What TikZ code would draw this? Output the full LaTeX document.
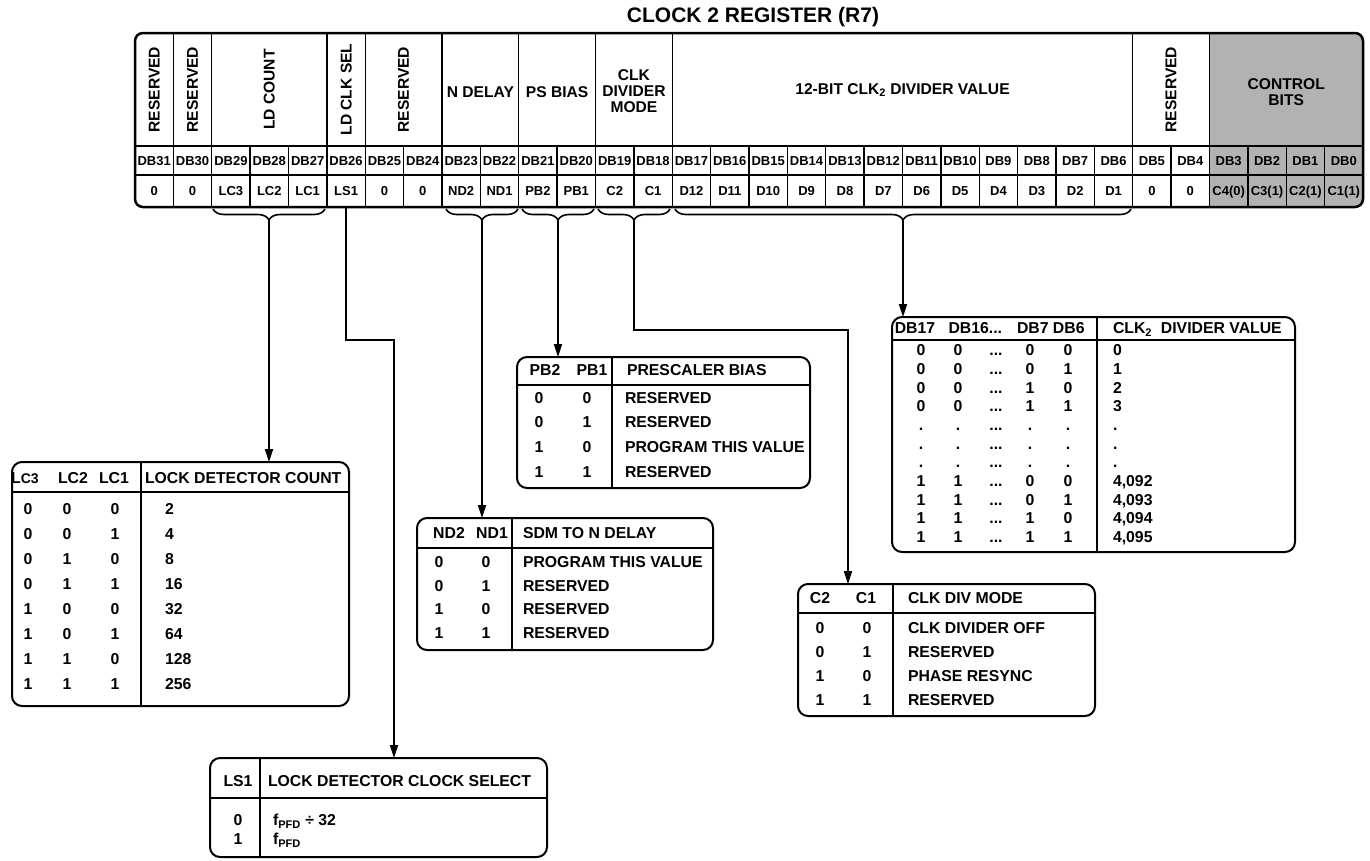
\documentclass[tikz,border=0pt]{standalone}
\usepackage{fontspec}
\setmainfont{Liberation Sans}
\usetikzlibrary{arrows.meta,decorations.pathreplacing}

\begin{document}
\begin{tikzpicture}[
  x=1pt, y=-1pt,
  every node/.style={inner sep=0pt, outer sep=0pt},
  title/.style={font=\fontsize{21}{21}\selectfont\bfseries},
  hdr/.style={font=\fontsize{15.6}{16}\selectfont\bfseries, align=center},
  bit/.style={font=\fontsize{13}{13}\selectfont\bfseries, text height=9.3pt, text depth=0pt},
  txt/.style={font=\fontsize{15.8}{15.8}\selectfont\bfseries, text height=11.3pt, text depth=0pt},
  lft/.style={txt, anchor=west},
  tbox/.style={draw, line width=2pt, rounded corners=10pt},
  rule/.style={line width=1.4pt},
  grid/.style={line width=1.3pt},
  brc/.style={decorate, decoration={brace, mirror, amplitude=11pt}, line width=1.6pt},
  arrow/.style={-{Triangle[length=13pt,width=8pt]}, line width=1.8pt}
]
  \useasboundingbox (0,0) rectangle (1370,860);

  % Register
  \node[title] (ttl) at (753,17) {CLOCK 2 REGISTER (R7)};
  \begin{scope}
    \clip[rounded corners=8pt] (135,33) rectangle (1363,207);
    \fill[black!30] (1209.5,33) rectangle (1363,207);
  \end{scope}
  \draw[grid] (135,146) -- (1363,146) (135,175) -- (1363,175);
  \foreach \i in {1,2,5,6,8,10,12,14,26,28}
    \draw[grid] ({135+38.375*\i},33) -- ({135+38.375*\i},146);
  \foreach \i in {1,...,31}
    \draw[grid] ({135+38.375*\i},146) -- ({135+38.375*\i},207);
  \draw[line width=2.5pt, rounded corners=8pt] (135,33) rectangle (1363,207);

  \node[hdr, rotate=90] (hres31) at (154.2,89.5) {RESERVED};
  \node[hdr, rotate=90] (hres30) at (192.6,89.5) {RESERVED};
  \node[hdr, rotate=90] (hldc) at (269.3,89.5) {LD COUNT};
  \node[hdr, rotate=90] (hlds) at (346.2,89.5) {LD CLK SEL};
  \node[hdr, rotate=90] (hres25) at (403.6,89.5) {RESERVED};
  \node[hdr] (hnd) at (480.4,92) {N DELAY};
  \node[hdr] (hpb) at (557.1,92) {PS BIAS};
  \node[hdr] (hcdm) at (633.9,91) {CLK\\DIVIDER\\MODE};
  \node[hdr] (hdiv) at (902.5,90) {12-BIT CLK\textsubscript{2} DIVIDER VALUE};
  \node[hdr, rotate=90] (hres5) at (1171.1,89.5) {RESERVED};
  \node[hdr] (hctl) at (1286.2,92) {CONTROL\\BITS};

  \foreach \n [count=\i from 0] in {31,...,0}
    \node[bit] (db\n) at ({135+38.375*(\i+0.5)},160.5) {DB\n};
  \foreach \v [count=\i from 0] in {0,0,LC3,LC2,LC1,LS1,0,0,ND2,ND1,PB2,PB1,C2,C1,D12,D11,D10,D9,D8,D7,D6,D5,D4,D3,D2,D1,0,0,C4(0),C3(1),C2(1),C1(1)}
    \node[bit] (val\i) at ({135+38.375*(\i+0.5)},191) {\v};

  % Braces
  \draw[brc] (213,209) -- (325,209);
  \draw[brc] (446,209) -- (518,209);
  \draw[brc] (522,209) -- (594,209);
  \draw[brc] (598,209) -- (670,209);
  \draw[brc] (675,209) -- (1131,209);
  \coordinate (lcTip) at (269,220);
  \coordinate (lsTop) at (346.2,207);
  \coordinate (lsBend) at (394,340);
  \coordinate (ndTip) at (482,220);
  \coordinate (pbTip) at (558,220);
  \coordinate (cTip) at (634,220);
  \coordinate (cBend) at (848,330);
  \coordinate (dTip) at (903,220);

  % LC table
  \node[tbox, minimum width=337pt, minimum height=244pt] (lcbox) at (180.5,584) {};
  \draw[rule] (12,492) -- (349,492) (141,462) -- (141,706);
  \node[txt] (lch3) at (25,478) {L{\fontsize{14}{14}\selectfont C3}};
  \node[txt] (lch2) at (73,478) {LC2};
  \node[txt] (lch1) at (114,478) {LC1};
  \node[lft] (lchv) at (145,478) {LOCK DETECTOR COUNT};
  \foreach \a/\b/\c/\v [count=\r] in {0/0/0/2,0/0/1/4,0/1/0/8,0/1/1/16,1/0/0/32,1/0/1/64,1/1/0/128,1/1/1/256} {
    \node[txt] (lca\r) at (28,{484+25*\r}) {\a};
    \node[txt] (lcb\r) at (67,{484+25*\r}) {\b};
    \node[txt] (lcc\r) at (115,{484+25*\r}) {\c};
    \node[lft] (lcv\r) at (165,{484+25*\r}) {\v};
  }

  % LS table
  \node[tbox, minimum width=337pt, minimum height=99pt] (lsbox) at (378.5,807.5) {};
  \draw[rule] (210,798) -- (547,798) (260,758) -- (260,857);
  \node[txt] (lsh1) at (238,781) {LS1};
  \node[lft] (lshv) at (268,781) {LOCK DETECTOR CLOCK SELECT};
  \node[txt] (lsa1) at (238,820) {0};
  \node[lft] (lsv1) at (273,820) {f\textsubscript{PFD} ÷ 32};
  \node[txt] (lsa2) at (238,839) {1};
  \node[lft] (lsv2) at (273,839) {f\textsubscript{PFD}};

  % PB table
  \node[tbox, minimum width=293pt, minimum height=131pt] (pbbox) at (663.5,422.5) {};
  \draw[rule] (517,385) -- (810,385) (612,357) -- (612,488);
  \node[txt] (pbh2) at (545,370) {PB2};
  \node[txt] (pbh1) at (592,370) {PB1};
  \node[lft] (pbhv) at (627,370) {PRESCALER BIAS};
  \foreach \a/\b/\v/\y [count=\r] in {0/0/RESERVED/398,0/1/RESERVED/422,1/0/PROGRAM THIS VALUE/447,1/1/RESERVED/472} {
    \node[txt] (pba\r) at (539,\y) {\a};
    \node[txt] (pbb\r) at (587,\y) {\b};
    \node[lft] (pbv\r) at (625,\y) {\v};
  }

  % ND table
  \node[tbox, minimum width=296pt, minimum height=132pt] (ndbox) at (565,584) {};
  \draw[rule] (417,548) -- (713,548) (512,518) -- (512,650);
  \node[txt] (ndh2) at (449,533) {ND2};
  \node[txt] (ndh1) at (492,533) {ND1};
  \node[lft] (ndhv) at (523,533) {SDM TO N DELAY};
  \foreach \a/\b/\v/\y [count=\r] in {0/0/PROGRAM THIS VALUE/562,0/1/RESERVED/586,1/0/RESERVED/609,1/1/RESERVED/633} {
    \node[txt] (nda\r) at (439,\y) {\a};
    \node[txt] (ndb\r) at (486,\y) {\b};
    \node[lft] (ndv\r) at (523,\y) {\v};
  }

  % C table
  \node[tbox, minimum width=297pt, minimum height=132pt] (cbox) at (946.5,650) {};
  \draw[rule] (798,613) -- (1095,613) (893,584) -- (893,716);
  \node[txt] (ch2) at (820,598) {C2};
  \node[txt] (ch1) at (866,598) {C1};
  \node[lft] (chv) at (908,598) {CLK DIV MODE};
  \foreach \a/\b/\v/\y [count=\r] in {0/0/CLK DIVIDER OFF/628,0/1/RESERVED/652,1/0/PHASE RESYNC/676,1/1/RESERVED/700} {
    \node[txt] (ca\r) at (820,\y) {\a};
    \node[txt] (cb\r) at (867,\y) {\b};
    \node[lft] (cv\r) at (908,\y) {\v};
  }

  % D table
  \node[tbox, minimum width=403pt, minimum height=235pt] (dbox) at (1093.5,434.5) {};
  \draw[rule] (892,340) -- (1295,340) (1097,317) -- (1097,552);
  \node[txt] (dh17) at (915,328) {DB17};
  \node[lft] (dh16) at (948.5,328) {DB16...};
  \node[lft] (dh7) at (1017,328) {DB7 DB6};
  \node[lft] (dhv) at (1113,328) {CLK\textsubscript{2}\ \ DIVIDER VALUE};
  \foreach \a/\b/\c/\d/\v [count=\r] in {0/0/0/0/0,0/0/0/1/1,0/0/1/0/2,0/0/1/1/3,./././././,./././././,./././././,1/1/0/0/{4,092},1/1/0/1/{4,093},1/1/1/0/{4,094},1/1/1/1/{4,095}} {
    \node[txt] (da\r) at (921,{331.3+18.7*\r}) {\a};
    \node[txt] (db\r) at (958,{331.3+18.7*\r}) {\b};
    \node[txt] (dd\r) at (996,{331.3+18.7*\r}) {...};
    \node[txt] (dc\r) at (1030,{331.3+18.7*\r}) {\c};
    \node[txt] (de\r) at (1068,{331.3+18.7*\r}) {\d};
    \node[lft] (dv\r) at (1113,{331.3+18.7*\r}) {\v};
  }

  % Connectors
  \draw[arrow] (lcTip) -- (lcTip |- lcbox.north);
  \draw[arrow] (lsTop) |- (lsBend) -- (lsBend |- lsbox.north);
  \draw[arrow] (ndTip) -- (ndTip |- ndbox.north);
  \draw[arrow] (pbTip) -- (pbTip |- pbbox.north);
  \draw[arrow] (cTip) |- (cBend) -- (cBend |- cbox.north);
  \draw[arrow] (dTip) -- (dTip |- dbox.north);
\end{tikzpicture}
\end{document}
